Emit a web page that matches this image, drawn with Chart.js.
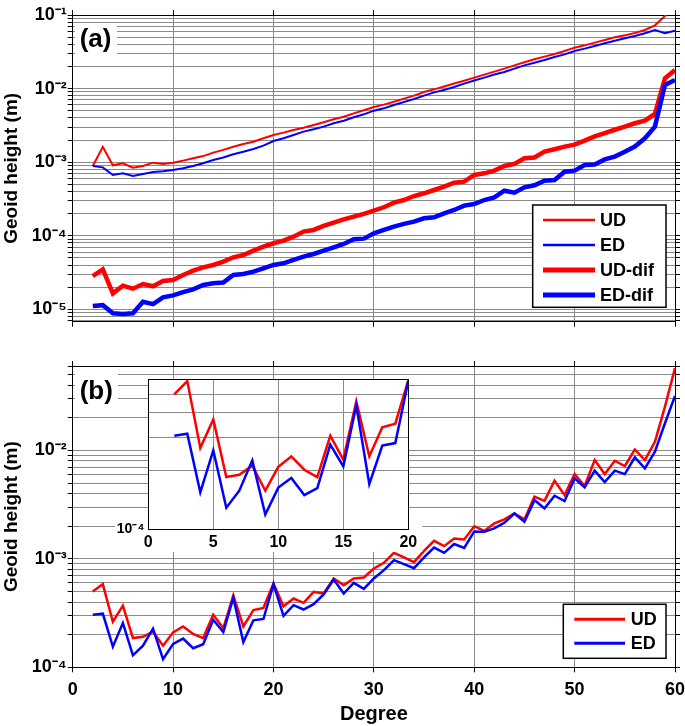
<!DOCTYPE html>
<html><head><meta charset="utf-8">
<script src="https://cdn.jsdelivr.net/npm/chart.js@4.4.0/dist/chart.umd.min.js"></script>
<style>
html,body{margin:0;padding:0;background:#fff;}
#wrap{position:relative;width:685px;height:726px;overflow:hidden;background:#fff;}
canvas{position:absolute;}
</style></head><body>
<div id="wrap">
<canvas id="ca" width="685" height="335" style="left:0;top:0"></canvas>
<canvas id="cb" width="685" height="391" style="left:0;top:335px"></canvas>
<canvas id="ci" width="310" height="177" style="left:115px;top:375px"></canvas>
</div>
<script>
// ---------- data ----------
const degrees = [2,3,4,5,6,7,8,9,10,11,12,13,14,15,16,17,18,19,20,21,22,23,24,25,26,27,28,29,30,31,32,33,34,35,36,37,38,39,40,41,42,43,44,45,46,47,48,49,50,51,52,53,54,55,56,57,58,59,60];
// panel (a)
const udA = [8.87e-4,1.62e-3,9.08e-4,9.66e-4,8.42e-4,8.87e-4,9.85e-4,9.46e-4,9.85e-4,1.05e-3,
  1.13e-3,1.21e-3,1.35e-3,1.47e-3,1.62e-3,1.77e-3,1.90e-3,2.11e-3,2.34e-3,2.52e-3,
  2.74e-3,2.94e-3,3.20e-3,3.48e-3,3.83e-3,4.15e-3,4.61e-3,5.07e-3,5.62e-3,6.05e-3,
  6.64e-3,7.30e-3,8.02e-3,8.99e-3,9.77e-3,1.07e-2,1.17e-2,1.28e-2,1.41e-2,1.55e-2,
  1.70e-2,1.87e-2,2.07e-2,2.28e-2,2.50e-2,2.72e-2,2.95e-2,3.24e-2,3.60e-2,3.87e-2,
  4.21e-2,4.57e-2,4.97e-2,5.29e-2,5.69e-2,6.25e-2,7.24e-2,9.69e-2,1.30e-1];
const edA = [8.87e-4,8.51e-4,6.70e-4,7.06e-4,6.49e-4,6.91e-4,7.36e-4,7.52e-4,7.83e-4,8.26e-4,
  8.87e-4,9.66e-4,1.07e-3,1.16e-3,1.28e-3,1.39e-3,1.51e-3,1.68e-3,1.94e-3,2.11e-3,
  2.34e-3,2.60e-3,2.80e-3,3.04e-3,3.38e-3,3.66e-3,4.07e-3,4.47e-3,5.01e-3,5.39e-3,
  5.98e-3,6.58e-3,7.22e-3,8.02e-3,8.89e-3,9.57e-3,1.05e-2,1.17e-2,1.29e-2,1.41e-2,
  1.55e-2,1.68e-2,1.87e-2,2.07e-2,2.25e-2,2.45e-2,2.69e-2,2.92e-2,3.24e-2,3.49e-2,
  3.79e-2,4.12e-2,4.48e-2,4.82e-2,5.19e-2,5.64e-2,6.25e-2,5.64e-2,6.12e-2];
const udDifA = [2.84e-5,3.50e-5,1.65e-5,2.10e-5,1.91e-5,2.21e-5,2.06e-5,2.43e-5,2.51e-5,2.93e-5,
  3.36e-5,3.73e-5,4.01e-5,4.46e-5,5.10e-5,5.48e-5,6.28e-5,7.11e-5,7.91e-5,8.59e-5,
  9.73e-5,1.14e-4,1.20e-4,1.36e-4,1.51e-4,1.67e-4,1.82e-4,1.98e-4,2.19e-4,2.44e-4,
  2.82e-4,3.06e-4,3.47e-4,3.78e-4,4.19e-4,4.65e-4,5.27e-4,5.44e-4,6.70e-4,7.06e-4,
  7.67e-4,8.87e-4,9.46e-4,1.13e-3,1.16e-3,1.39e-3,1.50e-3,1.63e-3,1.73e-3,1.96e-3,
  2.24e-3,2.49e-3,2.76e-3,3.04e-3,3.38e-3,3.66e-3,4.52e-3,1.38e-2,1.79e-2];
const edDifA = [1.11e-5,1.14e-5,8.85e-6,8.66e-6,8.85e-6,1.27e-5,1.18e-5,1.46e-5,1.55e-5,1.72e-5,
  1.87e-5,2.15e-5,2.26e-5,2.31e-5,2.93e-5,3.03e-5,3.26e-5,3.61e-5,4.01e-5,4.23e-5,
  4.69e-5,5.20e-5,5.66e-5,6.28e-5,6.97e-5,7.73e-5,8.95e-5,9.14e-5,1.08e-4,1.20e-4,
  1.33e-4,1.45e-4,1.56e-4,1.73e-4,1.78e-4,2.02e-4,2.24e-4,2.57e-4,2.70e-4,3.06e-4,
  3.33e-4,4.10e-4,3.85e-4,4.56e-4,4.85e-4,5.61e-4,5.73e-4,7.43e-4,7.67e-4,9.16e-4,
  9.27e-4,1.09e-3,1.19e-3,1.39e-3,1.63e-3,2.11e-3,3.04e-3,1.12e-2,1.31e-2];
// panel (b)
const udB = [4.99e-4,5.85e-4,2.63e-4,3.70e-4,1.86e-4,1.91e-4,2.13e-4,1.58e-4,2.10e-4,2.38e-4,
  2.03e-4,1.86e-4,3.05e-4,2.29e-4,4.60e-4,2.38e-4,3.37e-4,3.52e-4,5.92e-4,3.66e-4,
  4.31e-4,3.93e-4,4.96e-4,4.79e-4,6.59e-4,5.72e-4,6.60e-4,6.73e-4,8.15e-4,9.19e-4,
  1.136e-3,1.03e-3,9.32e-4,1.186e-3,1.466e-3,1.31e-3,1.54e-3,1.51e-3,2.00e-3,1.81e-3,
  2.12e-3,2.31e-3,2.62e-3,2.31e-3,3.74e-3,3.43e-3,5.25e-3,3.87e-3,6.05e-3,4.69e-3,
  8.15e-3,6.05e-3,8.03e-3,7.18e-3,1.02e-2,8.15e-3,1.20e-2,2.53e-2,5.73e-2];
const edB = [3.05e-4,3.12e-4,1.55e-4,2.56e-4,1.29e-4,1.58e-4,2.27e-4,1.19e-4,1.64e-4,1.84e-4,
  1.50e-4,1.63e-4,2.74e-4,2.11e-4,4.37e-4,1.71e-4,2.71e-4,2.79e-4,5.85e-4,2.98e-4,
  3.74e-4,3.41e-4,3.82e-4,4.69e-4,6.45e-4,4.79e-4,6.00e-4,5.28e-4,6.59e-4,7.86e-4,
  9.73e-4,8.93e-4,8.20e-4,1.03e-3,1.27e-3,1.136e-3,1.37e-3,1.26e-3,1.79e-3,1.78e-3,
  1.91e-3,2.15e-3,2.62e-3,2.20e-3,3.48e-3,2.92e-3,3.82e-3,3.41e-3,5.52e-3,4.56e-3,
  6.50e-3,5.11e-3,6.50e-3,6.05e-3,8.63e-3,6.83e-3,9.73e-3,1.78e-2,3.18e-2];
const xTickValues = [0,10,20,30,40,50,60];
const insetXTickValues = [0,5,10,15,20];
const insetMaxDegree = 20;

// ---------- helpers ----------
const FONT = "'Liberation Sans', Arial, Helvetica, sans-serif";
const GRID = '#8a8a8a';
const SUP = {'0':'\u2070','1':'\u00b9','2':'\u00b2','3':'\u00b3','4':'\u2074','5':'\u2075','6':'\u2076','7':'\u2077','8':'\u2078','9':'\u2079','-':'\u207b'};
function powLabel(v){
  const e = Math.round(Math.log10(v));
  if (Math.abs(v/Math.pow(10,e)-1) > 1e-6) return '';
  return '10' + String(e).split('').map(c=>SUP[c]).join('');
}
function logTicks(min,max){
  const out=[];
  for(let e=Math.floor(Math.log10(min)); e<=Math.ceil(Math.log10(max)); e++){
    for(let m=1;m<=9;m++){
      const v = +(m*Math.pow(10,e)).toPrecision(6);
      if(v>=min*0.9999 && v<=max*1.0001) out.push({value:v});
    }
  }
  return out;
}
const pts = (arr, maxD) => degrees.map((d,i)=>({x:d,y:arr[i]})).filter(p=>maxD===undefined||p.x<=maxD);

function mainScales(yMin,yMax,sz,showX){
  const xt = s=>{ s.ticks = xTickValues.map(v=>({value:v})); };
  const yt = s=>{ s.ticks = logTicks(s.min,s.max); };
  const bold = size=>({family:FONT,size:size,weight:'bold'});
  return {
    x:{type:'linear',position:'bottom',min:0,max:60,afterBuildTicks:xt,
      ticks:{display:showX,autoSkip:false,maxRotation:0,padding:7,color:'#000',font:bold(18)},
      grid:{color:GRID,lineWidth:1,tickLength:5,tickColor:'#000',drawTicks:true},
      border:{color:'#000',width:1},
      title:{display:showX,text:'Degree',color:'#000',font:bold(20),padding:{top:0,bottom:0}},
      afterFit:s=>{s.height=sz.bottom;s.paddingLeft=0;s.paddingRight=0;}},
    x2:{type:'linear',position:'top',min:0,max:60,afterBuildTicks:xt,
      ticks:{display:false},
      grid:{drawOnChartArea:false,tickLength:5,tickColor:'#000'},
      border:{color:'#000',width:1},
      afterFit:s=>{s.height=sz.top;s.paddingLeft=0;s.paddingRight=0;}},
    y:{type:'logarithmic',position:'left',min:yMin,max:yMax,afterBuildTicks:yt,
      ticks:{autoSkip:false,callback:v=>powLabel(v),padding:1,color:'#000',font:bold(18)},
      grid:{color:GRID,lineWidth:1,tickLength:5,tickColor:'#000'},
      border:{color:'#000',width:1},
      title:{display:true,text:'Geoid height (m)',color:'#000',font:bold(19),padding:{top:0,bottom:0}},
      afterFit:s=>{s.width=sz.left;s.paddingTop=0;s.paddingBottom=0;}},
    y2:{type:'logarithmic',position:'right',min:yMin,max:yMax,afterBuildTicks:yt,
      ticks:{display:false},
      grid:{drawOnChartArea:false,tickLength:5,tickColor:'#000'},
      border:{color:'#000',width:1},
      afterFit:s=>{s.width=sz.right;s.paddingTop=0;s.paddingBottom=0;}}
  };
}

const boxLegend = {
  id:'boxLegend',
  afterDraw(chart,args,o){
    const {ctx,chartArea:ca} = chart;
    const x0 = ca.right - o.right - o.width, y0 = ca.bottom - o.bottom - o.height;
    ctx.save();
    ctx.fillStyle='#fff'; ctx.fillRect(x0,y0,o.width,o.height);
    ctx.lineWidth=1.5; ctx.strokeStyle='#000'; ctx.strokeRect(x0,y0,o.width,o.height);
    chart.data.datasets.forEach((d,i)=>{
      const y = y0 + o.first + i*o.step;
      ctx.beginPath(); ctx.moveTo(x0+o.lineX,y); ctx.lineTo(x0+o.lineX+o.lineLen,y);
      ctx.strokeStyle=d.borderColor; ctx.lineWidth=d.legendWidth||d.borderWidth; ctx.stroke();
      ctx.fillStyle='#000'; ctx.font='bold 18px '+FONT; ctx.textBaseline='middle'; ctx.textAlign='left';
      ctx.fillText(d.label, x0+o.textX, y+1);
    });
    ctx.restore();
  }
};
const panelTag = {
  id:'panelTag',
  afterDraw(chart,args,o){
    const {ctx,chartArea:ca} = chart;
    ctx.save();
    ctx.fillStyle='#fff'; ctx.fillRect(ca.left+o.bx, ca.top+o.by, o.bw, o.bh);
    ctx.fillStyle='#000'; ctx.font='bold 26px '+FONT; ctx.textBaseline='middle'; ctx.textAlign='left';
    ctx.fillText(o.text, ca.left+o.tx, ca.top+o.ty);
    ctx.restore();
  }
};
const line = (label,data,color,w,order,extra)=>Object.assign({label,data,borderColor:color,backgroundColor:color,borderWidth:w,pointRadius:0,tension:0,fill:false,order,xAxisID:'x',yAxisID:'y',clip:0},extra||{});

// ---------- panel (a) ----------
new Chart(document.getElementById('ca'),{
  type:'line',
  data:{datasets:[
    line('UD',pts(udA),'#ff0000',2,4,{legendWidth:2.5}),
    line('ED',pts(edA),'#0000ff',2,3,{legendWidth:2.5}),
    line('UD-dif',pts(udDifA),'#ff0000',4.5,2,{legendWidth:5}),
    line('ED-dif',pts(edDifA),'#0000ff',4.5,1,{legendWidth:5})
  ]},
  options:{
    responsive:false,animation:false,devicePixelRatio:1,
    layout:{padding:0},
    scales:mainScales(6.8e-6,0.1,{left:72.7,right:10,top:15,bottom:13.3},false),
    plugins:{legend:{display:false},tooltip:{enabled:false},
      boxLegend:{right:9,bottom:14.4,width:133.3,height:102.3,first:15,step:25,lineX:10.3,lineLen:52,textX:67.3},
      panelTag:{text:'(a)',bx:2.3,by:9,bw:42,bh:33,tx:7,ty:25}}
  },
  plugins:[boxLegend,panelTag]
});

// ---------- panel (b) ----------
new Chart(document.getElementById('cb'),{
  type:'line',
  data:{datasets:[
    line('UD',pts(udB),'#ff0000',2.5,2,{legendWidth:3}),
    line('ED',pts(edB),'#0000ff',2.5,1,{legendWidth:3})
  ]},
  options:{
    responsive:false,animation:false,devicePixelRatio:1,
    layout:{padding:0},
    scales:mainScales(1e-4,0.06,{left:72.7,right:10,top:31,bottom:58.7},true),
    plugins:{legend:{display:false},tooltip:{enabled:false},
      boxLegend:{right:9,bottom:9,width:102.7,height:54,first:15,step:24,lineX:11,lineLen:50.7,textX:67.4},
      panelTag:{text:'(b)',bx:2.3,by:6,bw:43,bh:38,tx:7,ty:25.7}}
  },
  plugins:[boxLegend,panelTag]
});

// ---------- inset ----------
const insetBg = {
  id:'insetBg',
  beforeDraw(chart){
    const {ctx,chartArea:ca,height} = chart;
    ctx.save(); ctx.fillStyle='#fff';
    ctx.fillRect(ca.left,ca.top,ca.right-ca.left,ca.bottom-ca.top);
    ctx.fillRect(0,ca.bottom-10,ca.right+14,height-ca.bottom+10);
    ctx.restore();
  },
  afterDraw(chart){
    const {ctx,chartArea:ca} = chart;
    ctx.save(); ctx.strokeStyle='#000'; ctx.lineWidth=1;
    ctx.strokeRect(Math.round(ca.left)+0.5,Math.round(ca.top)+0.5,Math.round(ca.right-ca.left),Math.round(ca.bottom-ca.top));
    ctx.restore();
  }
};
new Chart(document.getElementById('ci'),{
  type:'line',
  data:{datasets:[
    line('UD',pts(udB,insetMaxDegree),'#ff0000',2.5,2),
    line('ED',pts(edB,insetMaxDegree),'#0000ff',2.5,1)
  ]},
  options:{
    responsive:false,animation:false,devicePixelRatio:1,
    layout:{padding:{top:4,right:16.7,left:0,bottom:0}},
    scales:{
      x:{type:'linear',position:'bottom',min:0,max:20,
        afterBuildTicks:s=>{s.ticks=insetXTickValues.map(v=>({value:v}));},
        ticks:{autoSkip:false,maxRotation:0,padding:4,color:'#000',font:{family:FONT,size:16,weight:'bold'}},
        grid:{color:GRID,drawTicks:false},
        border:{color:'#000',width:1},
        afterFit:s=>{s.height=23;s.paddingLeft=0;s.paddingRight=0;}},
      y:{type:'logarithmic',position:'left',min:1e-4,max:6e-4,
        afterBuildTicks:s=>{s.ticks=logTicks(s.min,s.max);},
        ticks:{autoSkip:false,callback:v=>powLabel(v),padding:4,color:'#000',font:{family:FONT,size:14,weight:'bold'}},
        grid:{color:GRID,drawTicks:false},
        border:{color:'#000',width:1},
        afterFit:s=>{s.width=33.3;s.paddingTop=0;s.paddingBottom=0;}}
    },
    plugins:{legend:{display:false},tooltip:{enabled:false}}
  },
  plugins:[insetBg]
});
</script>
</body></html>
